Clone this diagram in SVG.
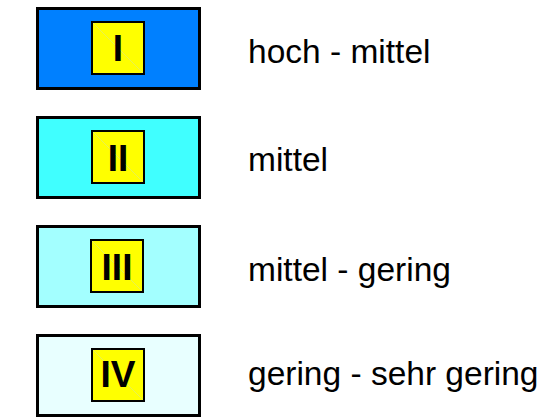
<svg xmlns="http://www.w3.org/2000/svg" width="544" height="418" viewBox="0 0 544 418">
  <style>
    .frame { stroke: #000; stroke-width: 3; }
    .badge { fill: #ffff00; stroke: #000; stroke-width: 2; }
    .seam { stroke: #d8e88a; stroke-width: 1; opacity: 0.6; }
    .num { font-family: "Liberation Sans", Arial, sans-serif; font-weight: bold; font-size: 37px; text-anchor: middle; fill: #000; }
    .lbl { font-family: "Liberation Sans", Arial, sans-serif; font-size: 33.5px; fill: #000; }
  </style>
  <rect width="544" height="418" fill="#fff"/>

  <g id="class-1">
    <rect class="frame" x="37.5" y="8.5" width="162" height="80" fill="#0080ff"/>
    <rect class="badge" x="92" y="22" width="52" height="52"/>
    <line class="seam" x1="93" y1="23" x2="143" y2="73"/>
    <text class="num" x="118" y="61">I</text>
    <text class="lbl" x="248" y="63">hoch - mittel</text>
  </g>

  <g id="class-2">
    <rect class="frame" x="37.5" y="117.5" width="162" height="80" fill="#40ffff"/>
    <rect class="badge" x="92" y="131" width="52" height="52"/>
    <line class="seam" x1="93" y1="132" x2="143" y2="182"/>
    <text class="num" x="118" y="171">II</text>
    <text class="lbl" x="248" y="171">mittel</text>
  </g>

  <g id="class-3">
    <rect class="frame" x="37.5" y="226.5" width="162" height="80" fill="#a3ffff"/>
    <rect class="badge" x="91" y="240" width="52" height="52"/>
    <line class="seam" x1="92" y1="241" x2="142" y2="291"/>
    <text class="num" x="117" y="280">III</text>
    <text class="lbl" x="248" y="281">mittel - gering</text>
  </g>

  <g id="class-4">
    <rect class="frame" x="37.5" y="335.5" width="162" height="80" fill="#e8ffff"/>
    <rect class="badge" x="92" y="349" width="52" height="52"/>
    <line class="seam" x1="93" y1="350" x2="143" y2="400"/>
    <text class="num" x="118" y="387">IV</text>
    <text class="lbl" x="248" y="385">gering - sehr gering</text>
  </g>

  <g id="connectors"></g>
</svg>
